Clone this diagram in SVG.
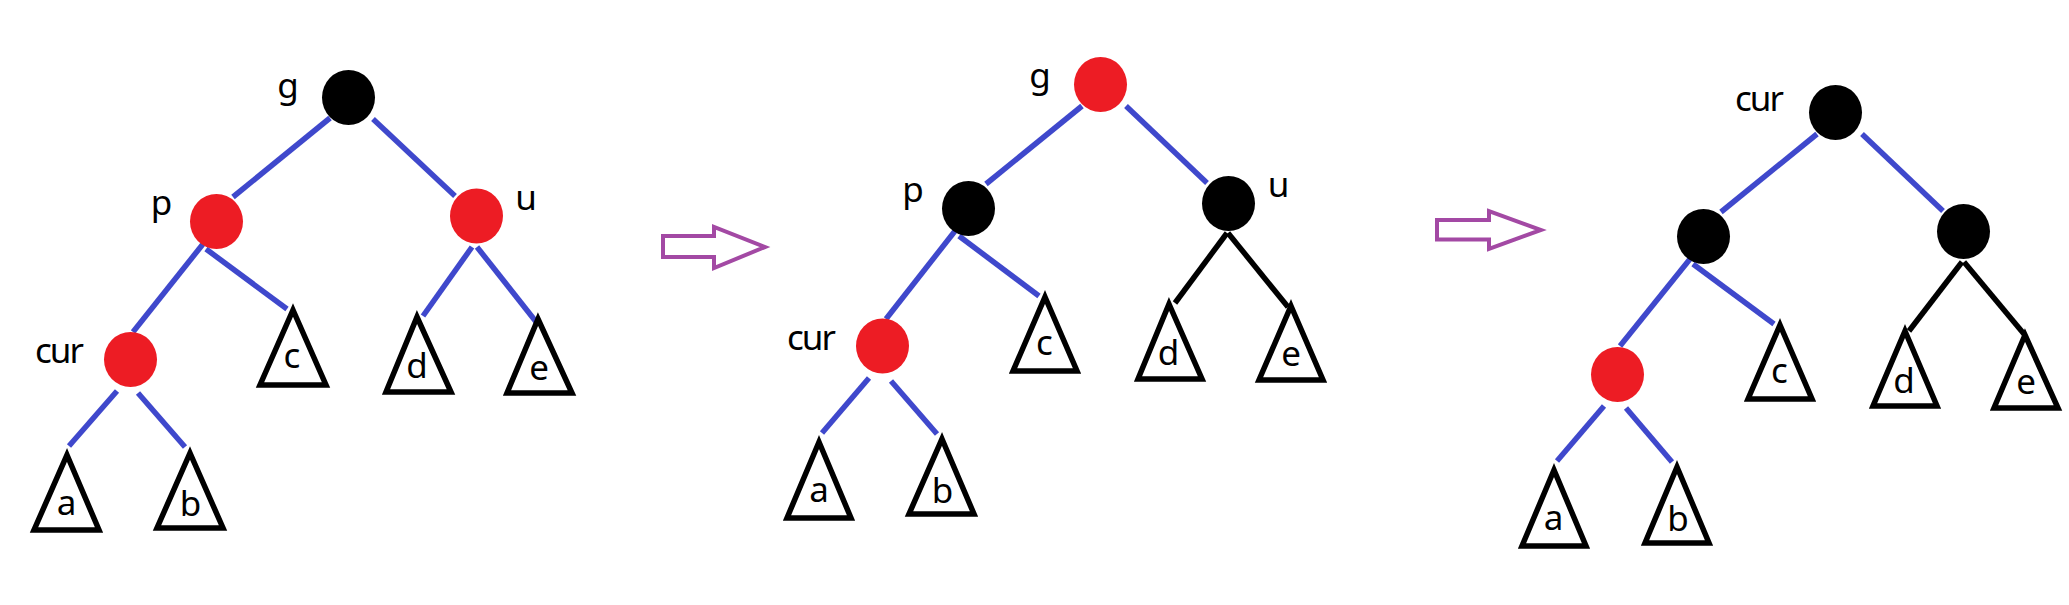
<svg xmlns="http://www.w3.org/2000/svg" width="2069" height="605" viewBox="0 0 2069 605">
<style>
.e{stroke:#3F48CC;stroke-width:5.5;fill:none}
.k{stroke:#000;stroke-width:5.5;fill:none}
.t{stroke:#000;stroke-width:5.5;fill:#fff;stroke-linejoin:miter}
.r{fill:#ED1C24}
.b{fill:#000}
.l{font-family:"Noto Sans","Open Sans",sans-serif;font-size:35px;fill:#000;text-anchor:middle}
.w{letter-spacing:-2px;text-anchor:start}
.ar{fill:none;stroke:#A349A4;stroke-width:4;stroke-linejoin:miter}
</style>
<rect width="2069" height="605" fill="#fff"/>
<g id="connectors">
<line class="e" x1="330" y1="118" x2="233" y2="197"/>
<line class="e" x1="373" y1="119" x2="455" y2="196"/>
<line class="e" x1="203" y1="244" x2="133" y2="332"/>
<line class="e" x1="206" y1="249" x2="287" y2="309"/>
<line class="e" x1="117" y1="391" x2="69" y2="446"/>
<line class="e" x1="138" y1="393" x2="185" y2="447"/>
<line class="e" x1="472" y1="247" x2="423" y2="316"/>
<line class="e" x1="477" y1="247" x2="537" y2="323"/>
<line class="e" x1="1082" y1="106" x2="986" y2="184"/>
<line class="e" x1="1126" y1="106" x2="1207" y2="183"/>
<line class="e" x1="955" y1="231" x2="886" y2="319"/>
<line class="e" x1="959" y1="236" x2="1039" y2="296"/>
<line class="e" x1="869" y1="378" x2="822" y2="433"/>
<line class="e" x1="891" y1="381" x2="937" y2="434"/>
<line class="k" x1="1227" y1="233" x2="1175" y2="303"/>
<line class="k" x1="1228" y1="233" x2="1288" y2="307"/>
<line class="e" x1="1817" y1="134" x2="1721" y2="212"/>
<line class="e" x1="1862" y1="134" x2="1943" y2="211"/>
<line class="e" x1="1690" y1="259" x2="1620" y2="346"/>
<line class="e" x1="1693" y1="264" x2="1774" y2="324"/>
<line class="e" x1="1604" y1="406" x2="1557" y2="461"/>
<line class="e" x1="1626" y1="408" x2="1672" y2="462"/>
<line class="k" x1="1962" y1="262" x2="1909" y2="331"/>
<line class="k" x1="1964" y1="262" x2="2024" y2="334"/>
</g>
<g id="arrow1"><polygon class="ar" points="663,236 714,236 714,227 765,247 714,268 714,257 663,257"/></g>
<g id="arrow2"><polygon class="ar" points="1437,220 1489,220 1489,211 1541,230 1489,249 1489,239.5 1437,239.5"/></g>
<!-- tree 1 -->
<g id="t1-g"><ellipse class="b" cx="348.5" cy="97.5" rx="26.5" ry="27.5"/><text class="l" x="288" y="98">g</text></g>
<g id="t1-p"><ellipse class="r" cx="216.5" cy="221.5" rx="26.5" ry="27.5"/><text class="l" x="161.5" y="215">p</text></g>
<g id="t1-u"><ellipse class="r" cx="476.5" cy="216" rx="26.5" ry="27.5"/><text class="l" x="526" y="210">u</text></g>
<g id="t1-cur"><ellipse class="r" cx="130.5" cy="359.5" rx="26.5" ry="27.5"/><text class="l w" x="35" y="363">cur</text></g>
<g id="t1-a"><polygon class="t" points="67,455 99,530 34,530"/><text class="l" x="66.5" y="515">a</text></g>
<g id="t1-b"><polygon class="t" points="190,453 223,528 157,528"/><text class="l" x="190.5" y="516">b</text></g>
<g id="t1-c"><polygon class="t" points="293,310 326,385 260,385"/><text class="l" x="292" y="368">c</text></g>
<g id="t1-d"><polygon class="t" points="417,317 451,392 386,392"/><text class="l" x="417" y="378">d</text></g>
<g id="t1-e"><polygon class="t" points="538,319 572,393 507,393"/><text class="l" x="539" y="380">e</text></g>
<!-- tree 2 -->
<g id="t2-g"><ellipse class="r" cx="1100.5" cy="84.5" rx="26.5" ry="27.5"/><text class="l" x="1040" y="88">g</text></g>
<g id="t2-p"><ellipse class="b" cx="968.5" cy="208.5" rx="26.5" ry="27.5"/><text class="l" x="913" y="202">p</text></g>
<g id="t2-u"><ellipse class="b" cx="1228.5" cy="203.5" rx="26.5" ry="27.5"/><text class="l" x="1278.5" y="197">u</text></g>
<g id="t2-cur"><ellipse class="r" cx="882.5" cy="346" rx="26.5" ry="27.5"/><text class="l w" x="787" y="350">cur</text></g>
<g id="t2-a"><polygon class="t" points="819,442 851,518 787,518"/><text class="l" x="819" y="502">a</text></g>
<g id="t2-b"><polygon class="t" points="942,439 974,514 909,514"/><text class="l" x="942.5" y="503">b</text></g>
<g id="t2-c"><polygon class="t" points="1045,297 1077,371 1013,371"/><text class="l" x="1044.5" y="355">c</text></g>
<g id="t2-d"><polygon class="t" points="1169,304 1202,379 1138,379"/><text class="l" x="1168.5" y="365">d</text></g>
<g id="t2-e"><polygon class="t" points="1291,306 1323,380 1259,380"/><text class="l" x="1291" y="366">e</text></g>
<!-- tree 3 -->
<g id="t3-cur"><ellipse class="b" cx="1835.5" cy="112.5" rx="26.5" ry="27.5"/><text class="l w" x="1735" y="111">cur</text></g>
<g id="t3-l"><ellipse class="b" cx="1703.5" cy="236.5" rx="26.5" ry="27.5"/></g>
<g id="t3-r"><ellipse class="b" cx="1963.5" cy="231.5" rx="26.5" ry="27.5"/></g>
<g id="t3-red"><ellipse class="r" cx="1617.5" cy="374.5" rx="26.5" ry="27.5"/></g>
<g id="t3-a"><polygon class="t" points="1554,470 1586,546 1522,546"/><text class="l" x="1553.5" y="530">a</text></g>
<g id="t3-b"><polygon class="t" points="1677,467 1709,543 1645,543"/><text class="l" x="1678" y="531">b</text></g>
<g id="t3-c"><polygon class="t" points="1780,325 1812,399 1748,399"/><text class="l" x="1779.5" y="383">c</text></g>
<g id="t3-d"><polygon class="t" points="1905,331 1937,406 1873,406"/><text class="l" x="1904" y="393">d</text></g>
<g id="t3-e"><polygon class="t" points="2025,335 2058,408 1994,408"/><text class="l" x="2026" y="394">e</text></g>
</svg>
